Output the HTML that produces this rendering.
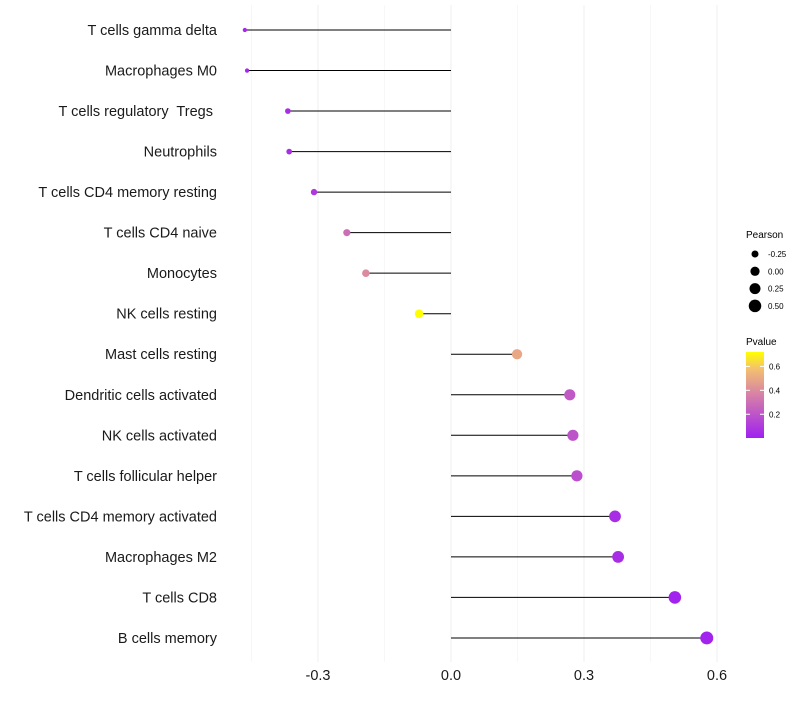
<!DOCTYPE html>
<html><head><meta charset="utf-8"><style>
body{margin:0;background:#fff;font-family:"Liberation Sans",sans-serif;}
text{white-space:pre;}
</style></head><body>
<svg id="c" width="800" height="700" font-family="Liberation Sans, sans-serif">
<defs><linearGradient id="pg" x1="0" y1="1" x2="0" y2="0">
<stop offset="0" stop-color="#a020f0"/><stop offset="0.5" stop-color="#d680a8"/><stop offset="0.8" stop-color="#f3bf70"/><stop offset="1" stop-color="#ffff00"/></linearGradient></defs>
<g id="grid"></g><g id="marks"></g><g id="labels"></g>
<g>
<text x="746" y="238" font-size="10">Pearson</text>
</g>
<g>
<text x="746" y="345" font-size="10">Pvalue</text>
<rect x="746" y="352" width="18" height="86" fill="url(#pg)"/>
</g>
</svg>
<script>
const categories=["T cells gamma delta","Macrophages M0","T cells regulatory  Tregs ","Neutrophils","T cells CD4 memory resting","T cells CD4 naive","Monocytes","NK cells resting","Mast cells resting","Dendritic cells activated","NK cells activated","T cells follicular helper","T cells CD4 memory activated","Macrophages M2","T cells CD8","B cells memory"];
const pearson=[-0.465,-0.46,-0.368,-0.365,-0.309,-0.235,-0.192,-0.072,0.149,0.268,0.275,0.284,0.37,0.377,0.505,0.577];
const pvalue=[0.04,0.04,0.06,0.06,0.1,0.3,0.4,0.72,0.5,0.22,0.2,0.18,0.06,0.06,0.02,0.02];
const xTicks=[-0.3,0,0.3,0.6];
const xTickLabels=["-0.3","0.0","0.3","0.6"];
const legendVals=[-0.25,0,0.25,0.5];
const legendLabels=["-0.25","0.00","0.25","0.50"];
const cbTicks=[0.2,0.4,0.6];
const ns="http://www.w3.org/2000/svg";
const X=v=>451+v*443.3;
const Y=i=>30+i*40.53;
const R=p=>Math.sqrt(Math.max(1,21.3+36*p));
const cbY=v=>437-(v-0.01)/0.71*85;
function col(p){const t=Math.min(1,Math.max(0,(p-0.01)/0.71));
const st=[[0,[160,32,240]],[0.5,[214,128,168]],[0.8,[243,191,112]],[1,[255,255,0]]];
for(let k=1;k<st.length;k++){if(t<=st[k][0]){const a=st[k-1],b=st[k],f=(t-a[0])/(b[0]-a[0]);
return`rgb(${a[1].map((c,j)=>Math.round(c+(b[1][j]-c)*f)).join(',')})`;}}return'rgb(255,255,0)';}
function mk(tag,at,parent){const e=document.createElementNS(ns,tag);for(const k in at)e.setAttribute(k,at[k]);parent.appendChild(e);return e;}
const svg=document.getElementById('c'),grid=document.getElementById('grid'),marks=document.getElementById('marks'),labels=document.getElementById('labels');
for(let v=-0.45;v<=0.61;v+=0.15){const g=mk('line',{x1:X(v),x2:X(v),y1:5,y2:662,stroke:Math.abs(Math.round(v/0.15))%2?'#f7f7f7':'#efefef','stroke-width':1},grid);

}
categories.forEach((c,i)=>{const l=mk('line',{x1:X(0),x2:X(pearson[i]),y1:Y(i),y2:Y(i),stroke:'#000','stroke-width':1},marks);


const p=mk('circle',{cx:X(pearson[i]),cy:Y(i),r:R(pearson[i]),fill:col(pvalue[i])},marks);


const t=mk('text',{x:217,y:Y(i)+5,'text-anchor':'end','font-size':14.5,fill:'#1a1a1a'},labels);t.textContent=c;

});
xTicks.forEach((v,i)=>{const t=mk('text',{x:X(v),y:680,'text-anchor':'middle','font-size':14.5,fill:'#1a1a1a'},labels);t.textContent=xTickLabels[i];

});
legendVals.forEach((v,i)=>{const y=254+i*17.3;const c=mk('circle',{cx:755,cy:y,r:R(v),fill:'#000'},svg);


const t=mk('text',{x:768,y:y+3,'font-size':8},svg);t.textContent=legendLabels[i];

});
cbTicks.forEach(v=>{const y=cbY(v);mk('line',{x1:746,x2:750,y1:y,y2:y,stroke:'#fff'},svg);mk('line',{x1:760,x2:764,y1:y,y2:y,stroke:'#fff'},svg);
const t=mk('text',{x:769,y:y+3,'font-size':8},svg);t.textContent=v.toFixed(1);

});
</script>
</body></html>
